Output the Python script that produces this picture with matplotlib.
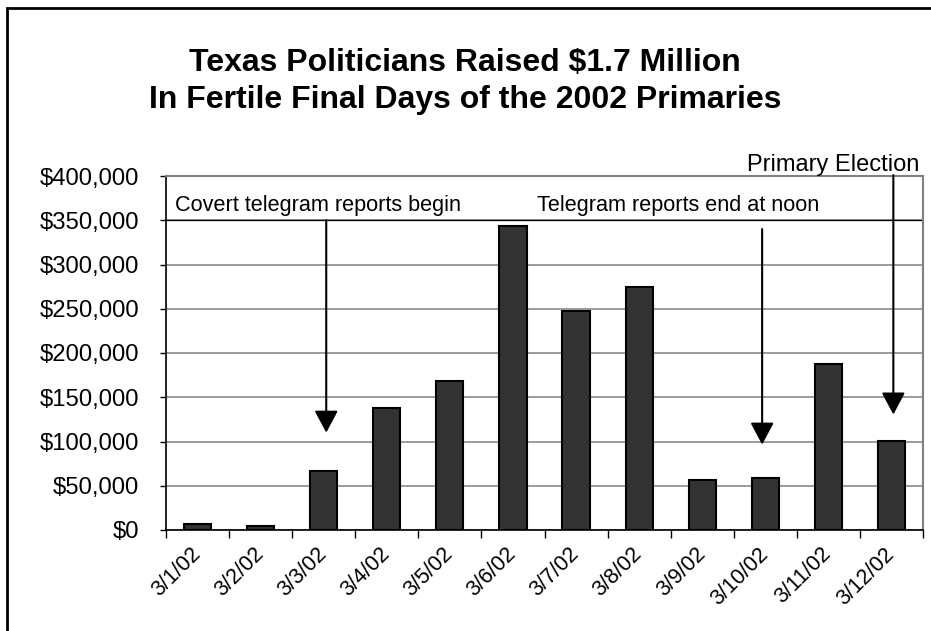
import matplotlib
matplotlib.use("Agg")
import matplotlib.pyplot as plt
from matplotlib.patches import Rectangle
from matplotlib.ticker import FuncFormatter, FixedLocator

plt.rcParams["font.family"] = ["Liberation Sans", "DejaVu Sans"]

DATES = ["3/1/02", "3/2/02", "3/3/02", "3/4/02", "3/5/02", "3/6/02",
         "3/7/02", "3/8/02", "3/9/02", "3/10/02", "3/11/02", "3/12/02"]
RAISED = [7000, 5000, 67000, 138000, 168500, 343000,
          247500, 275000, 56500, 58700, 187500, 100500]

W, H = 931, 631
fig = plt.figure(figsize=(W / 100, H / 100), dpi=100)

# outer chart border (cropped on the right and bottom)
fig.patches.append(Rectangle((7 / W, -0.1), 1.2, 1 - 8 / H + 0.1,
                             transform=fig.transFigure, fill=False,
                             edgecolor="black", linewidth=2.0))

ax = fig.add_axes([166 / W, (H - 530) / H, (923 - 166) / W, (530 - 176) / H])

x = list(range(len(DATES)))
ax.bar(x, RAISED, width=0.43, color="#333333", edgecolor="black",
       linewidth=1.5, zorder=3)

ax.set_xlim(-0.5, len(DATES) - 0.5)
ax.set_ylim(0, 400000)
ax.set_yticks(range(0, 400001, 50000))
ax.yaxis.set_major_formatter(FuncFormatter(lambda v, _: f"${v:,.0f}"))
ax.grid(axis="y", color="#808080", linewidth=1.1, zorder=1)
ax.axhline(350000, color="black", linewidth=0.9, zorder=2)

ax.set_xticks(x)
ax.set_xticklabels(DATES, rotation=45, ha="right", va="center",
                   rotation_mode="anchor", fontsize=15.5)
ax.xaxis.set_minor_locator(FixedLocator([i - 0.5 for i in range(len(DATES) + 1)]))
ax.tick_params(axis="x", which="major", length=0, pad=15)
ax.tick_params(axis="x", which="minor", length=6, width=1, direction="out")
ax.tick_params(axis="y", length=4.3, width=1, direction="out", labelsize=17.2, pad=15)

for side in ("top", "right"):
    ax.spines[side].set_color("#808080")
    ax.spines[side].set_linewidth(1.5)
for side in ("left", "bottom"):
    ax.spines[side].set_color("black")
    ax.spines[side].set_linewidth(1.2)

arrow = dict(arrowstyle="-|>,head_length=13.5,head_width=7.2", color="black",
             linewidth=1.5, shrinkA=0, shrinkB=0, mutation_scale=1)
ax.annotate("", xy=(2.04, 110000), xytext=(2.04, 350000), arrowprops=arrow, zorder=4)
ax.annotate("", xy=(8.95, 96500), xytext=(8.95, 340000), arrowprops=arrow, zorder=4)
ax.annotate("", xy=(11.03, 130500), xytext=(11.03, 401000), arrowprops=arrow,
            annotation_clip=False, zorder=4)

ax.text(-0.36, 367000, "Covert telegram reports begin", fontsize=15.6,
        ha="left", va="center")
ax.text(5.38, 367000, "Telegram reports end at noon", fontsize=15.6,
        ha="left", va="center")
ax.text(11.45, 412000, "Primary Election", fontsize=17, ha="right",
        va="center", clip_on=False)

fig.text(465 / W, 1 - 63 / H, "Texas Politicians Raised $1.7 Million",
         ha="center", va="center", fontsize=23, fontweight="bold")
fig.text(465 / W, 1 - 100 / H, "In Fertile Final Days of the 2002 Primaries",
         ha="center", va="center", fontsize=23, fontweight="bold")

fig.savefig("out.png", dpi=100)
